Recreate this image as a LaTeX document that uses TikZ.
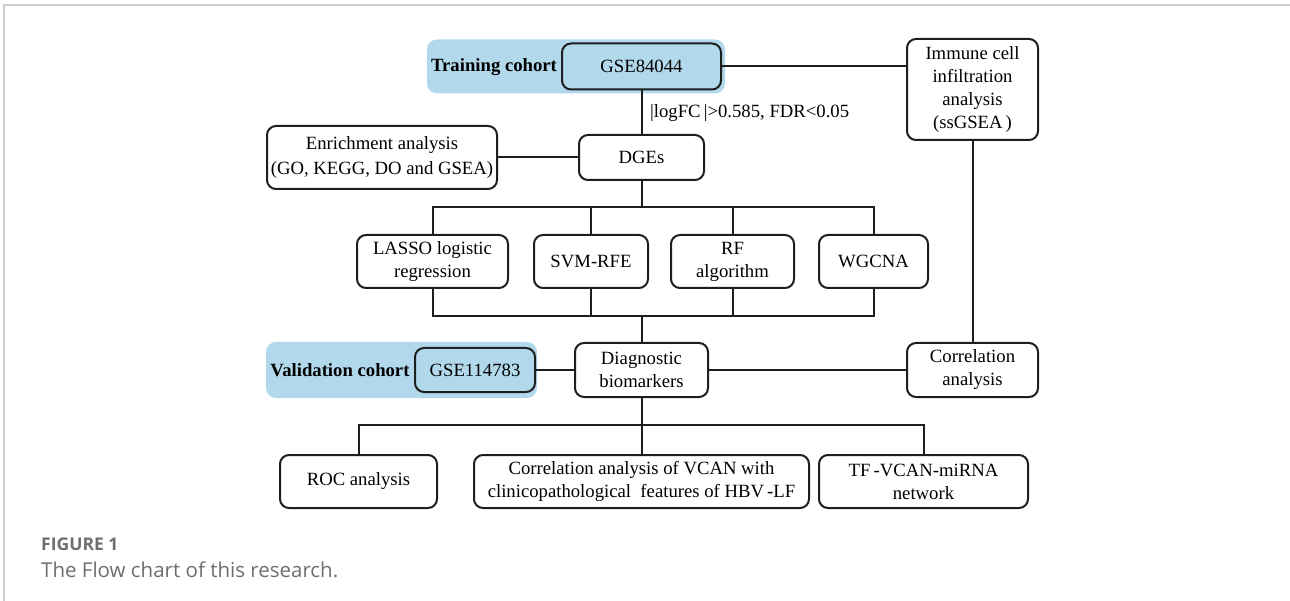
\documentclass[tikz,border=0pt]{standalone}
\usepackage{fontspec}
\setmainfont{Liberation Serif}
\newfontfamily\capfont{Open Sans}
\definecolor{cohortblue}{HTML}{B2D8EC}
\definecolor{linegray}{HTML}{1E1E1E}
\definecolor{capgray}{HTML}{6E6E6E}
\definecolor{framegray}{HTML}{CCCCCC}
\tikzset{
  flowbox/.style={draw=linegray, line width=2pt, rounded corners=9pt, fill=white,
    align=center, inner sep=0pt, font=\fontsize{18.7}{23}\selectfont},
  gsebox/.style={flowbox, fill=cohortblue},
  cohortbg/.style={fill=cohortblue, rounded corners=10pt, inner sep=0pt},
  cohortlbl/.style={font=\fontsize{18.7}{23}\selectfont\bfseries, inner sep=0pt},
  conn/.style={draw=linegray, line width=2pt},
  plainlbl/.style={font=\fontsize{18.7}{23}\selectfont, inner sep=0pt},
}
\begin{document}
\begin{tikzpicture}[x=1pt,y=-1pt]
\useasboundingbox (0,0) rectangle (1290,601);
% frame lines
\draw[framegray, line width=1.5pt] (4,601) -- (4,5) -- (1290,5);
% training cohort
\node[cohortbg, minimum width=298, minimum height=54] (trainbg) at (576,66.5) {};
\node[cohortlbl] (trainlbl) at (494,67) {Training cohort};
\node[gsebox, minimum width=159, minimum height=46] (gse1) at (641.5,66.5) {GSE84044};
% immune
\node[flowbox, minimum width=131, minimum height=101] (immune) at (972.5,89.5)
  {Immune cell\\infiltration\\analysis\\(ssGSEA\,)};
% DGEs and enrichment
\node[flowbox, minimum width=125, minimum height=45] (dges) at (641.5,157.5) {DGEs};
\node[flowbox, minimum width=230, minimum height=63, font=\fontsize{18.7}{25}\selectfont] (enrich) at (382,157.5)
  {Enrichment analysis\\(GO, KEGG, DO and GSEA)};
\node[plainlbl, anchor=west] (thr) at (650,113) {|logFC\,|>0.585, FDR<0.05};
% methods
\node[flowbox, minimum width=151, minimum height=53] (lasso) at (432.5,261.5) {LASSO logistic\\regression};
\node[flowbox, minimum width=114, minimum height=53] (svm) at (591,261.5) {SVM-RFE};
\node[flowbox, minimum width=123, minimum height=53] (rf) at (732.5,261.5) {RF\\algorithm};
\node[flowbox, minimum width=109, minimum height=53] (wgcna) at (873.5,261.5) {WGCNA};
% diagnostic row
\node[flowbox, minimum width=133, minimum height=54] (diag) at (641.5,370) {Diagnostic\\biomarkers};
\node[cohortbg, minimum width=271, minimum height=56] (valbg) at (401.5,370) {};
\node[cohortlbl] (vallbl) at (340,370) {Validation cohort};
\node[gsebox, minimum width=120, minimum height=44] (gse2) at (475,370) {GSE114783};
\node[flowbox, minimum width=131, minimum height=54] (corr) at (972.5,370) {Correlation\\analysis};
% bottom row
\node[flowbox, minimum width=157, minimum height=53] (roc) at (358.5,481.5) {ROC analysis};
\node[flowbox, minimum width=335, minimum height=53] (vcan) at (641.5,481.5)
  {Correlation analysis of VCAN with\\clinicopathological\ \ features of HBV\,-LF};
\node[flowbox, minimum width=209, minimum height=53] (tf) at (923.5,481.5) {TF\,-VCAN-miRNA\\network};
% bus coordinates
\coordinate (busT) at (641.5,207);
\coordinate (busB) at (641.5,316);
\coordinate (busL) at (641.5,425);
% connectors
\draw[conn] (gse1.east) -- (gse1.east -| immune.west);
\draw[conn] (gse1.south) -- (dges.north);
\draw[conn] (enrich.east) -- (dges.west);
\draw[conn] (dges.south) -- (busT);
\draw[conn] (lasso.north) -- (lasso.north |- busT) -- (wgcna.north |- busT) -- (wgcna.north);
\draw[conn] (svm.north) -- (svm.north |- busT);
\draw[conn] (rf.north) -- (rf.north |- busT);
\draw[conn] (lasso.south) -- (lasso.south |- busB) -- (wgcna.south |- busB) -- (wgcna.south);
\draw[conn] (svm.south) -- (svm.south |- busB);
\draw[conn] (rf.south) -- (rf.south |- busB);
\draw[conn] (busB) -- (diag.north);
\draw[conn] (gse2.east) -- (diag.west);
\draw[conn] (diag.east) -- (corr.west);
\draw[conn] (immune.south) -- (corr.north);
\draw[conn] (diag.south) -- (vcan.north);
\draw[conn] (roc.north) -- (roc.north |- busL) -- (tf.north |- busL) -- (tf.north);
% caption
\node[anchor=base west, inner sep=0pt, text=capgray, font=\capfont\fontsize{17.5}{22}\selectfont\bfseries] (figlbl) at (41,550) {FIGURE 1};
\node[anchor=base west, inner sep=0pt, text=capgray, font=\capfont\fontsize{20.5}{24}\selectfont] (figcap) at (41,577) {The Flow chart of this research.};
\end{tikzpicture}
\end{document}
